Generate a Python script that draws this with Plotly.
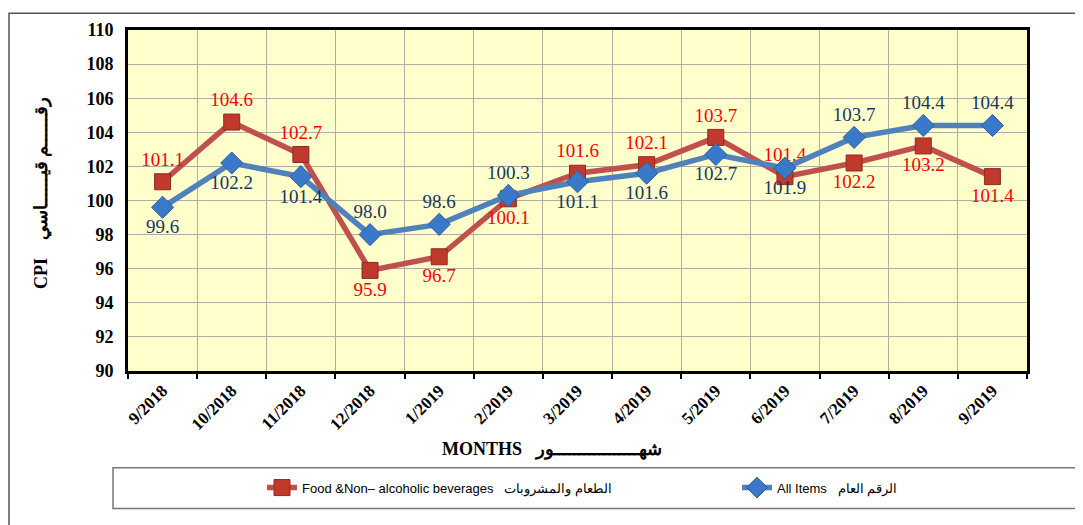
import plotly.graph_objects as go

months = ["9/2018", "10/2018", "11/2018", "12/2018", "1/2019", "2/2019", "3/2019",
          "4/2019", "5/2019", "6/2019", "7/2019", "8/2019", "9/2019"]
food = [101.1, 104.6, 102.7, 95.9, 96.7, 100.1, 101.6, 102.1, 103.7, 101.4, 102.2, 103.2, 101.4]
all_items = [99.6, 102.2, 101.4, 98.0, 98.6, 100.3, 101.1, 101.6, 102.7, 101.9, 103.7, 104.4, 104.4]
food_pos = ["top center", "top center", "top center", "bottom center", "bottom center",
            "bottom center", "top center", "top center", "top center", "top center",
            "bottom center", "bottom center", "bottom center"]
all_pos = ["bottom center", "bottom center", "bottom center", "top center", "top center",
           "top center", "bottom center", "bottom center", "bottom center", "bottom center",
           "top center", "top center", "top center"]
y_ticks = [90, 92, 94, 96, 98, 100, 102, 104, 106, 108, 110]

OFF = 8  # page body margin
W, H = 1083 - OFF, 525 - OFF
L, R, T, B = 128, 1027, 26, 371  # plot area in page pixels

def px(x):
    return (x - L) / (R - L)

def py(y):
    return (B - y) / (B - T)

fig = go.Figure()
fig.add_trace(go.Scatter(
    x=months, y=food, mode="lines+markers+text",
    name="Food &Non\u2013 alcoholic beverages   الطعام والمشروبات",
    line=dict(color="#C0504D", width=5.5),
    marker=dict(symbol="square", size=16, color="#C0392B", line=dict(color="#8B2A27", width=1)),
    text=[f"{v:.1f}" for v in food], textposition=food_pos,
    textfont=dict(family="Liberation Serif", size=19, color="#FF0000"),
    legend="legend",
))
fig.add_trace(go.Scatter(
    x=months, y=all_items, mode="lines+markers+text",
    name="All Items   الرقم العام",
    line=dict(color="#4F81BD", width=5.5),
    marker=dict(symbol="diamond", size=17, color="#3A78C9", line=dict(color="#2F5F9A", width=1)),
    text=[f"{v:.1f}" for v in all_items], textposition=all_pos,
    textfont=dict(family="Liberation Serif", size=19, color="#17375E"),
    legend="legend2",
))

leg_common = dict(orientation="h", xanchor="left", yanchor="middle",
                  font=dict(family="Liberation Sans", size=13, color="black"),
                  bgcolor="rgba(0,0,0,0)")

fig.update_layout(
    width=W, height=H,
    margin=dict(l=L - OFF, r=W - (R - OFF), t=T - OFF, b=H - (B - OFF)),
    paper_bgcolor="white", plot_bgcolor="#FFFFCC",
    showlegend=True,
    legend=dict(x=px(262), y=py(489), **leg_common),
    legend2=dict(x=px(737), y=py(489), **leg_common),
    xaxis=dict(type="category", tickson="boundaries", showgrid=True, gridcolor="#B0B0A0",
               gridwidth=1, showline=True, linecolor="black", linewidth=3, mirror=True,
               ticks="outside", ticklen=5, tickcolor="black", tickwidth=2, tickangle=-45,
               tickfont=dict(family="Liberation Serif", size=17, color="black", weight="bold"),
               range=[-0.5, 12.5]),
    yaxis=dict(range=[90, 110], tickvals=y_ticks, showgrid=True, gridcolor="#B0B0A0",
               gridwidth=1, showline=True, linecolor="black", linewidth=3, mirror=True,
               ticks="", ticklabelstandoff=8,
               tickfont=dict(family="Liberation Serif", size=18, color="black", weight="bold"),
               zeroline=False),
    shapes=[
        dict(type="rect", xref="paper", yref="paper", x0=px(9), x1=px(1081), y0=py(530), y1=py(9),
             line=dict(color="#555555", width=1.5), fillcolor="rgba(0,0,0,0)", layer="below"),
        dict(type="rect", xref="paper", yref="paper", x0=px(113), x1=px(1078), y0=py(510), y1=py(469),
             line=dict(color="#777777", width=1.5), fillcolor="rgba(0,0,0,0)"),
    ],
    annotations=[
        dict(text="CPI    رقــــــم قيــــــاسي", xref="paper", yref="paper", x=px(41), y=py(191),
             xanchor="center", yanchor="middle",
             textangle=-90, showarrow=False,
             font=dict(family="Liberation Serif", size=18, color="black", weight="bold")),
        dict(text="MONTHS   شهـــــــــــــــــور", xref="paper", yref="paper", x=px(552), y=py(450),
             xanchor="center", yanchor="middle",
             showarrow=False,
             font=dict(family="Liberation Serif", size=18, color="black", weight="bold")),
    ],
)

fig.write_html("out.html")
